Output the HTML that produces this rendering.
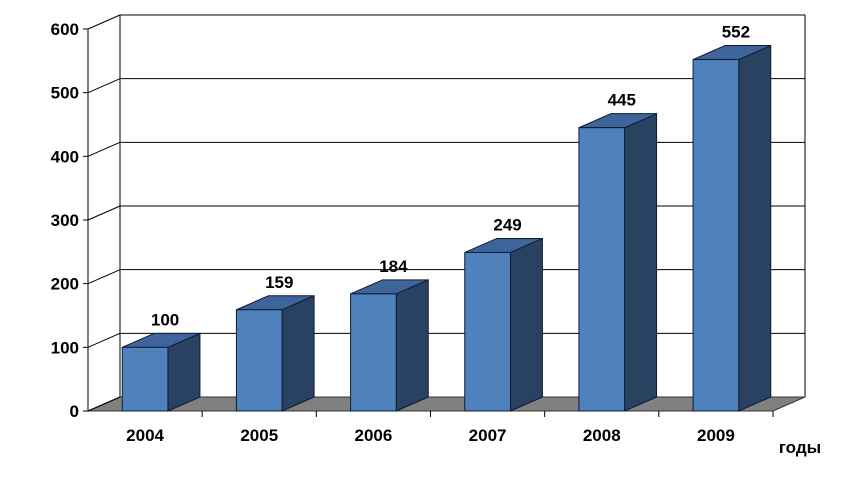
<!DOCTYPE html>
<html><head><meta charset="utf-8"><style>
body{margin:0;background:#fff}
svg{display:block;font-family:"Liberation Sans",Arial,sans-serif;font-weight:bold}
</style></head><body>
<svg id="c" width="861" height="488"></svg>
<script>
const categories=["2004","2005","2006","2007","2008","2009"];
const values=[100,159,184,249,445,552];
const yTicks=[0,100,200,300,400,500,600];
const NS="http://www.w3.org/2000/svg";
const svg=document.getElementById('c');
const x0=88,x1=773,yBase=411,yTop=29,dx=32,dy=-14,yMax=600;
const Y=v=>yBase-(v/yMax)*(yBase-yTop);
const cw=(x1-x0)/categories.length;
function add(tag,attrs,parent){const e=document.createElementNS(NS,tag);for(const k in attrs)e.setAttribute(k,attrs[k]);(parent||svg).appendChild(e);return e;}
// back wall
const wall=add('rect',{x:x0+dx,y:Y(yMax)+dy,width:x1-x0,height:Y(0)-Y(yMax),fill:'#fff',stroke:'#000','stroke-width':1});


// floor
const floor=add('polygon',{points:`${x0},${yBase} ${x1},${yBase} ${x1+dx},${yBase+dy} ${x0+dx},${yBase+dy}`,fill:'#808080',stroke:'#333','stroke-width':1});


// gridlines + y ticks
yTicks.forEach(t=>{
  const y=Y(t);
  if(t>0){const g=add('line',{x1:x0+dx,y1:y+dy,x2:x1+dx,y2:y+dy,stroke:'#000','stroke-width':1});
  
  }
  const s=add('line',{x1:x0,y1:y,x2:x0+dx,y2:y+dy,stroke:'#000','stroke-width':1});
  
  
  const tk=add('line',{x1:x0-5,y1:y,x2:x0,y2:y,stroke:'#000'});
  
  
  const tx=add('text',{x:x0-9,y:y+6,'text-anchor':'end','font-size':17});
  tx.textContent=t;
  
  
});
// side wall left edge
const ax=add('line',{x1:x0,y1:yBase,x2:x0,y2:Y(yMax),stroke:'#000'});


const bx=add('line',{x1:x0+dx,y1:yBase+dy,x2:x0+dx,y2:Y(yMax)+dy,stroke:'#000'});


// x ticks
for(let i=1;i<=categories.length;i++){
  const x=x0+i*cw;
  const tk=add('line',{x1:x,y1:yBase,x2:x,y2:yBase+6,stroke:'#000'});
  
  
}
// bars
categories.forEach((c,i)=>{
  const v=values[i];
  const bw=cw*0.4;
  const bx=x0+i*cw+(cw-bw)/2;
  const yt=Y(v);
  const g=add('g',{});
  
  
  add('polygon',{points:`${bx+bw},${yBase} ${bx+bw+dx},${yBase+dy} ${bx+bw+dx},${yt+dy} ${bx+bw},${yt}`,fill:'#2a4262',stroke:'#0f1c30','stroke-width':1},g);
  add('polygon',{points:`${bx},${yt} ${bx+bw},${yt} ${bx+bw+dx},${yt+dy} ${bx+dx},${yt+dy}`,fill:'#3d659c',stroke:'#0f1c30','stroke-width':1},g);
  add('rect',{x:bx,y:yt,width:bw,height:yBase-yt,fill:'#4f81bd',stroke:'#0f1c30','stroke-width':1},g);
  const lb=add('text',{x:bx+bw/2+20,y:yt+dy-8,'text-anchor':'middle','font-size':17});
  lb.textContent=v;
  
  
  const cl=add('text',{x:x0+i*cw+cw/2,y:441,'text-anchor':'middle','font-size':17});
  cl.textContent=c;
  
  
});
const at=add('text',{x:800,y:453,'text-anchor':'middle','font-size':17});
at.textContent='годы';


</script>
</body></html>
